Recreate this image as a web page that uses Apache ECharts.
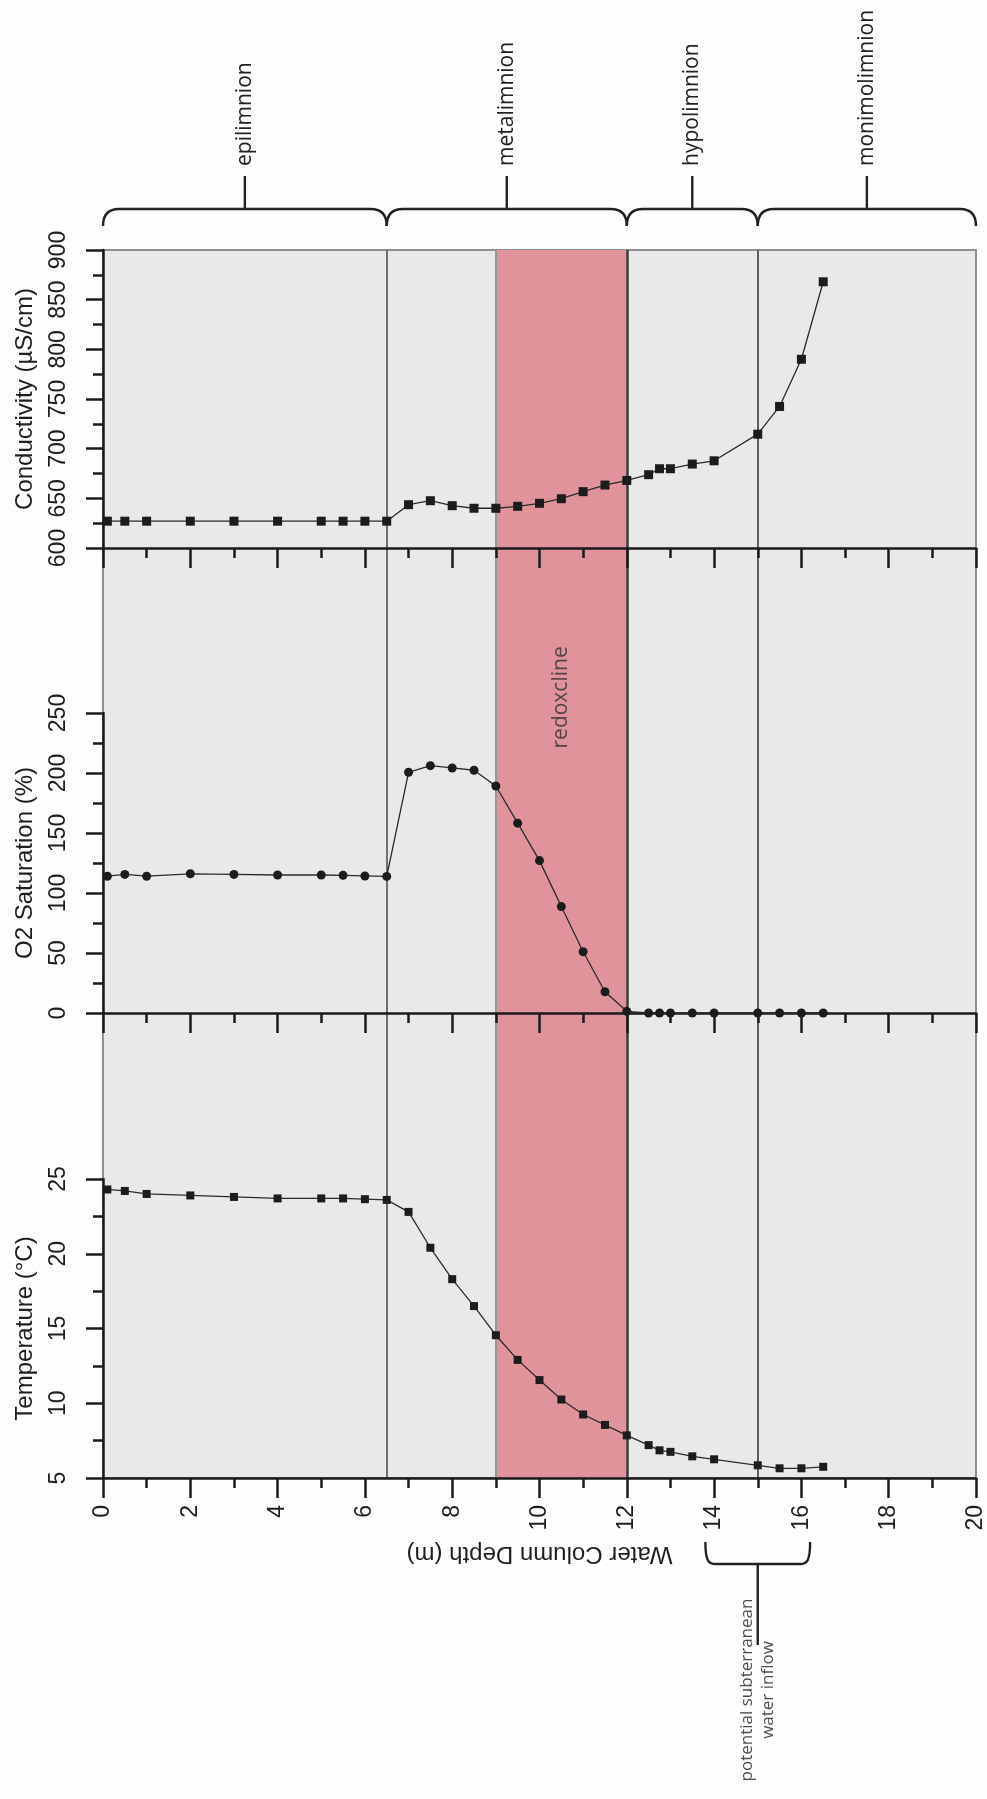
<!DOCTYPE html>
<html>
<head>
<meta charset="utf-8">
<script src="https://cdn.jsdelivr.net/npm/echarts@6/dist/echarts.min.js"></script>
<style>
  html, body { margin: 0; padding: 0; background: #fdfdfd; }
  #chart { width: 987px; height: 1799px; }
</style>
</head>
<body>
<div id="chart"></div>
<script>
// Sampling depths of the profile (m)
const depth = [0.1, 0.5, 1, 2, 3, 4, 5, 5.5, 6, 6.5, 7, 7.5, 8, 8.5, 9, 9.5, 10, 10.5, 11, 11.5,
               12, 12.5, 12.75, 13, 13.5, 14, 15, 15.5, 16, 16.5];
// Water temperature (°C)
const temperature = [24.3, 24.2, 24.0, 23.9, 23.8, 23.7, 23.7, 23.7, 23.65, 23.6, 22.8, 20.4, 18.3, 16.5,
                     14.55, 12.9, 11.55, 10.25, 9.25, 8.55, 7.85, 7.2, 6.85, 6.75, 6.45, 6.25, 5.85, 5.65, 5.65, 5.75];
// Dissolved oxygen saturation (%)
const oxygenSaturation = [114, 115.5, 114, 116, 115.5, 115, 115, 114.7, 114.2, 113.8, 200.6, 206.1, 204.2, 202.3,
                          189.2, 158.2, 127, 88.7, 51, 17.7, 1.4, 0, 0, 0, 0, 0, 0, 0, 0, 0];
// Specific conductivity (µS/cm)
const conductivity = [627, 627, 627, 627, 627, 627, 627, 627, 627, 627, 643.6, 647.6, 642.6, 640, 640, 642, 645,
                      649.6, 656.7, 663.4, 668, 673.8, 679.8, 679.8, 684.5, 687.8, 714.6, 742.5, 790, 868];

// Water-column layers (depth ranges, m)
const layerNames = ['epilimnion', 'metalimnion', 'hypolimnion', 'monimolimnion'];
const layerTop = [0, 6.5, 12, 15];
const layerBottom = [6.5, 12, 15, 20];
// Redoxcline band (m) and the O2 level where its name sits
const redoxcline = [9, 12];
const redoxLabelLevel = 263;
// Depth range of the suspected subterranean inflow (m)
const inflowRange = [13.8, 16.2];
const inflowLabel = 'potential subterranean\nwater inflow';

// Axis ranges and tick steps
const depthRange = [0, 20, 2];
const condRange = [600, 900, 50];
const oxyRange = [0, 250, 50];
const tempRange = [5, 25, 5];

const INK = '#1b1b1b';
const LABEL_FONT = '"Liberation Sans", Arial, sans-serif';
const NOTE_FONT = '"Open Sans", sans-serif';

const PLOT_LEFT = 103, PLOT_WIDTH = 873;
const grids = [
  { top: 250, height: 1228, show: true, backgroundColor: '#e9e9e9', borderColor: '#8f8f8f', borderWidth: 2 }, // panel backdrop
  { top: 250, height: 298 },   // conductivity
  { top: 713, height: 300 },   // O2 saturation
  { top: 1179, height: 299 },  // temperature
  { top: 0, height: 250 },     // layer braces
  { top: 1478, height: 321 }   // inflow note
].map(g => Object.assign({ left: PLOT_LEFT, width: PLOT_WIDTH, outerBoundsMode: 'none', containLabel: false }, g));

function hiddenAxis(gridIndex, min, max, inverse) {
  return { type: 'value', gridIndex, min, max, inverse: !!inverse, show: false, splitLine: { show: false } };
}

function depthAxis(gridIndex, withLabels) {
  return {
    type: 'value', gridIndex, min: depthRange[0], max: depthRange[1], interval: depthRange[2], z: 6,
    name: withLabels ? 'Water Column Depth (m)' : '',
    nameLocation: 'middle', nameRotate: 180, nameGap: 64, nameMoveOverlap: false,
    nameTextStyle: { fontFamily: LABEL_FONT, fontSize: 24, color: '#1e1e1e' },
    axisLine: { show: true, onZero: false, lineStyle: { color: INK, width: 2.5 } },
    axisTick: { show: true, length: 20, lineStyle: { color: INK, width: 2.5 } },
    minorTick: { show: true, splitNumber: 2, length: 10, lineStyle: { color: INK, width: 2.5 } },
    axisLabel: { show: withLabels, rotate: 90, margin: 27, fontFamily: LABEL_FONT, fontSize: 23, color: '#1e1e1e' },
    splitLine: { show: false }, minorSplitLine: { show: false }
  };
}

function measureAxis(gridIndex, name, range) {
  return {
    type: 'value', gridIndex, min: range[0], max: range[1], interval: range[2], z: 6,
    name, nameLocation: 'middle', nameGap: 66, nameMoveOverlap: false,
    nameTextStyle: { fontFamily: LABEL_FONT, fontSize: 24, color: '#1e1e1e' },
    axisLine: { show: true, onZero: false, lineStyle: { color: INK, width: 2.5 } },
    axisTick: { show: true, length: 17, lineStyle: { color: INK, width: 2.5 } },
    minorTick: { show: true, splitNumber: 2, length: 10, lineStyle: { color: INK, width: 2.5 } },
    axisLabel: { rotate: 90, margin: 33, fontFamily: LABEL_FONT, fontSize: 23, color: '#1e1e1e' },
    splitLine: { show: false }, minorSplitLine: { show: false }
  };
}

const boundaryStyles = {
  6.5: { color: '#707070', width: 2 },
  9: { color: '#979797', width: 2 },
  12: { color: '#3a3a3a', width: 2.5 },
  15: { color: '#5e5e5e', width: 2 }
};
const boundaries = [layerBottom[0], redoxcline[0], layerBottom[1], layerBottom[2]];

function profile(values) {
  return depth.map((d, i) => [d, values[i]]);
}

// Curly brace opening towards the plot, stem pointing away from it
function braceRender(opts) {
  return function (params, api) {
    const sys = params.coordSys;
    const x1 = api.coord([api.value(0), 0])[0];
    const x2 = api.coord([api.value(1), 0])[0];
    const cx = (x1 + x2) / 2;
    const s = opts.dir;                 // -1: brace above the plot, +1: below
    const base = s < 0 ? sys.y + sys.height : sys.y;
    const yEnd = base + s * opts.endGap;
    const yLine = yEnd + s * opts.hook;
    const yStem = yLine + s * opts.stem;
    const r = opts.radius;
    const path =
      `M${x1},${yEnd} C${x1},${yLine - s * r * 0.35} ${x1 + r * 0.3},${yLine} ${x1 + r},${yLine} ` +
      `L${x2 - r},${yLine} C${x2 - r * 0.3},${yLine} ${x2},${yLine - s * r * 0.35} ${x2},${yEnd} ` +
      `M${cx},${yLine} L${cx},${yStem}`;
    const children = [
      { type: 'path', shape: { pathData: path },
        style: { stroke: '#222', lineWidth: 2.4, fill: 'none' } }
    ];
    if (opts.text) {
      children.push({ type: 'text', x: cx, y: yStem + s * opts.textGap, rotation: Math.PI / 2,
        style: { text: opts.text(api), font: opts.font, fill: '#222', align: 'left', verticalAlign: 'middle' } });
    }
    return { type: 'group', children };
  };
}

const option = {
  backgroundColor: '#fdfdfd',
  animation: false,
  grid: grids,
  xAxis: [
    hiddenAxis(0, depthRange[0], depthRange[1]),
    depthAxis(1, false),
    depthAxis(2, false),
    depthAxis(3, true),
    hiddenAxis(4, depthRange[0], depthRange[1]),
    hiddenAxis(5, depthRange[0], depthRange[1])
  ],
  yAxis: [
    hiddenAxis(0, 0, 1),
    measureAxis(1, 'Conductivity (\u00b5S/cm)', condRange),
    measureAxis(2, 'O2 Saturation (%)', oxyRange),
    measureAxis(3, 'Temperature (\u00b0C)', tempRange),
    hiddenAxis(4, 0, 1),
    hiddenAxis(5, 0, 321, true)
  ],
  series: [
    {
      // redoxcline band and layer boundaries across all three panels
      type: 'line', xAxisIndex: 0, yAxisIndex: 0, silent: true, z: 1,
      data: [[depthRange[0], 0], [depthRange[1], 0]],
      showSymbol: false, lineStyle: { opacity: 0 },
      markArea: {
        silent: true,
        itemStyle: { color: '#e0939b', opacity: 1 },
        data: [[{ xAxis: redoxcline[0] }, { xAxis: redoxcline[1] }]]
      },
      markLine: {
        silent: true, symbol: ['none', 'none'], label: { show: false },
        data: boundaries.map(b => ({ xAxis: b, lineStyle: Object.assign({ type: 'solid' }, boundaryStyles[b]) }))
      }
    },
    {
      name: 'Conductivity', type: 'line', xAxisIndex: 1, yAxisIndex: 1, z: 7, clip: false,
      data: profile(conductivity),
      symbol: 'rect', symbolSize: 9,
      itemStyle: { color: '#1c1c1c' },
      lineStyle: { color: '#2b2b2b', width: 1.3 }
    },
    {
      name: 'O2 Saturation', type: 'line', xAxisIndex: 2, yAxisIndex: 2, z: 7, clip: false,
      data: profile(oxygenSaturation),
      symbol: 'circle', symbolSize: 9,
      itemStyle: { color: '#1c1c1c' },
      lineStyle: { color: '#2b2b2b', width: 1.3 }
    },
    {
      name: 'Temperature', type: 'line', xAxisIndex: 3, yAxisIndex: 3, z: 7, clip: false,
      data: profile(temperature),
      symbol: 'rect', symbolSize: 8,
      itemStyle: { color: '#1c1c1c' },
      lineStyle: { color: '#2b2b2b', width: 1.3 }
    },
    {
      type: 'scatter', xAxisIndex: 2, yAxisIndex: 2, z: 7, clip: false, silent: true,
      data: [[(redoxcline[0] + redoxcline[1]) / 2, redoxLabelLevel]],
      symbolSize: 0,
      label: { show: true, position: 'inside', formatter: 'redoxcline', rotate: 90,
               fontFamily: NOTE_FONT, fontSize: 21, color: '#333' }
    },
    {
      type: 'custom', xAxisIndex: 4, yAxisIndex: 4, silent: true, z: 7,
      data: layerTop.map((t, i) => [t, layerBottom[i], i]),
      renderItem: braceRender({
        dir: -1, endGap: 24, hook: 17, stem: 33, radius: 16, textGap: 10,
        font: '21px ' + NOTE_FONT,
        text: api => layerNames[api.value(2)]
      })
    },
    {
      type: 'custom', xAxisIndex: 5, yAxisIndex: 5, silent: true, z: 7,
      data: [[inflowRange[0], inflowRange[1]]],
      renderItem: braceRender({ dir: 1, endGap: 64, hook: 22, stem: 81, radius: 10 })
    },
    {
      // note under the inflow brace, two lines reading upwards
      type: 'scatter', xAxisIndex: 5, yAxisIndex: 5, z: 7, clip: false, silent: true,
      data: [[(inflowRange[0] + inflowRange[1]) / 2, 212]],
      symbolSize: 0,
      label: { show: true, position: 'inside', formatter: inflowLabel, rotate: 90, align: 'center',
               lineHeight: 21, fontFamily: NOTE_FONT, fontSize: 17, color: '#222' }
    }
  ]
};

const chart = echarts.init(document.getElementById('chart'), null, { renderer: 'canvas' });
chart.setOption(option);
</script>
</body>
</html>
